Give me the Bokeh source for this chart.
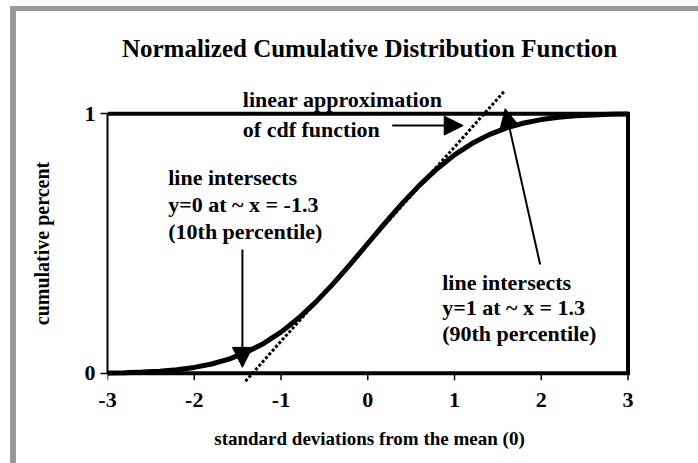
from bokeh.plotting import figure
from bokeh.models import Range1d, FixedTicker, Arrow, NormalHead, Label
from bokeh.embed import file_html
from bokeh.resources import INLINE

# ---- data ----
z = [-3.0, -2.8, -2.6, -2.4, -2.2, -2.0, -1.8, -1.6, -1.4, -1.2, -1.0,
     -0.8, -0.6, -0.4, -0.2, 0.0, 0.2, 0.4, 0.6, 0.8, 1.0,
     1.2, 1.4, 1.6, 1.8, 2.0, 2.2, 2.4, 2.6, 2.8, 3.0]
cdf = [0.0013, 0.0026, 0.0047, 0.0082, 0.0139, 0.0228, 0.0359, 0.0548, 0.0808, 0.1151, 0.1587,
       0.2119, 0.2743, 0.3446, 0.4207, 0.5000, 0.5793, 0.6554, 0.7257, 0.7881, 0.8413,
       0.8849, 0.9192, 0.9452, 0.9641, 0.9772, 0.9861, 0.9918, 0.9953, 0.9974, 0.9987]

lin_x = [-1.41, 1.57]
lin_y = [-0.03, 1.085]

x_ticks = [-3, -2, -1, 0, 1, 2, 3]
y_ticks = [0, 1]

title_text = "Normalized Cumulative Distribution Function"
x_label = "standard deviations from the mean (0)"
y_label = "cumulative percent"

note_lin = ["linear approximation", "of cdf function"]
note_left = ["line intersects", "y=0 at ~ x = -1.3", "(10th percentile)"]
note_right = ["line intersects", "y=1 at ~ x = 1.3", "(90th percentile)"]

# annotation anchors (data units)
note_lin_x, note_lin_y = -1.44, [1.054, 0.938]
note_left_x, note_left_y = -2.30, [0.754, 0.650, 0.546]
note_right_x, note_right_y = 0.858, [0.350, 0.254, 0.154]

arrow_lin = (0.282, 0.954, 1.100, 0.954)
arrow_left = (-1.445, 0.477, -1.445, 0.023)
arrow_right = (1.987, 0.419, 1.584, 1.019)

tick_len = 0.027  # length of the x tick marks below the axis, in y units

FONT = "Liberation Serif"

p = figure(frame_width=524, frame_height=322,
           x_range=Range1d(-3, 3.04), y_range=Range1d(-0.12, 1.12),
           output_backend="svg", toolbar_location=None,
           min_border_left=91, min_border_right=67,
           min_border_top=69, min_border_bottom=59)
p.styles = {"border-left": "6px solid #999999", "border-top": "5px solid #999999",
            "border-bottom": "2px solid #999999",
            "margin-left": "10px", "margin-top": "6px"}

p.title.text = title_text
p.title.text_font = FONT
p.title.text_font_style = "bold"
p.title.text_font_size = "25px"
p.title.text_color = "black"
p.title.align = "center"
p.title.standoff = 42

p.xgrid.visible = False
p.ygrid.visible = False
p.outline_line_color = None

for ax in (p.xaxis[0], p.yaxis[0]):
    ax.major_label_text_font = FONT
    ax.major_label_text_font_style = "bold"
    ax.major_label_text_font_size = "22px"
    ax.major_label_text_color = "black"
    ax.axis_label_text_font = FONT
    ax.axis_label_text_font_style = "bold"
    ax.axis_label_text_color = "black"
    ax.minor_tick_line_color = None

p.xaxis.ticker = FixedTicker(ticks=x_ticks)
p.yaxis.ticker = FixedTicker(ticks=y_ticks)
p.xaxis.major_label_overrides = {t: str(t) for t in x_ticks}
p.yaxis.major_label_overrides = {t: str(t) for t in y_ticks}
p.yaxis.bounds = (y_ticks[0], y_ticks[-1])
p.xaxis.axis_label = x_label
p.yaxis.axis_label = y_label
p.xaxis.axis_label_text_font_size = "19px"
p.yaxis.axis_label_text_font_size = "20px"

# x axis sits at the frame bottom; its labels are pulled up under the y=0 line
p.xaxis.axis_line_color = None
p.xaxis.major_tick_line_color = None
p.xaxis.major_tick_in = 0
p.xaxis.major_tick_out = 0
p.xaxis.major_label_standoff = -12
p.xaxis.axis_label_standoff = 18

p.yaxis.axis_line_color = "black"
p.yaxis.axis_line_width = 2
p.yaxis.major_tick_line_color = "black"
p.yaxis.major_tick_line_width = 1.5
p.yaxis.major_tick_in = 0
p.yaxis.major_tick_out = 7
p.yaxis.major_label_standoff = 5
p.yaxis.axis_label_standoff = 29

# x tick marks hanging below the y=0 line
p.segment(x0=x_ticks, y0=[y_ticks[0]] * len(x_ticks),
          x1=x_ticks, y1=[y_ticks[0] - tick_len] * len(x_ticks),
          line_color="black", line_width=1.5)

# plot box (top, right and bottom edges) from the axis extents
p.line([x_ticks[0], x_ticks[-1], x_ticks[-1], x_ticks[0]],
       [y_ticks[-1], y_ticks[-1], y_ticks[0], y_ticks[0]],
       line_color="black", line_width=4, line_join="miter")

# cdf curve
p.line(z, cdf, line_color="black", line_width=5)

# linear approximation (dotted)
p.line(lin_x, lin_y, line_color="black", line_width=3, line_dash="3 2")

def add_arrow(a, size):
    p.add_layout(Arrow(end=NormalHead(size=size, fill_color="black", line_color="black"),
                       x_start=a[0], y_start=a[1], x_end=a[2], y_end=a[3],
                       line_color="black", line_width=2))

add_arrow(arrow_lin, 19)
add_arrow(arrow_left, 20)
add_arrow(arrow_right, 19)

def add_notes(lines, x, ys):
    for t, y in zip(lines, ys):
        p.add_layout(Label(x=x, y=y, text=t, text_font=FONT, text_font_style="bold",
                           text_font_size="22px", text_color="black",
                           text_align="left", text_baseline="middle"))

add_notes(note_lin, note_lin_x, note_lin_y)
add_notes(note_left, note_left_x, note_left_y)
add_notes(note_right, note_right_x, note_right_y)

open("out.html", "w").write(file_html(p, INLINE))
